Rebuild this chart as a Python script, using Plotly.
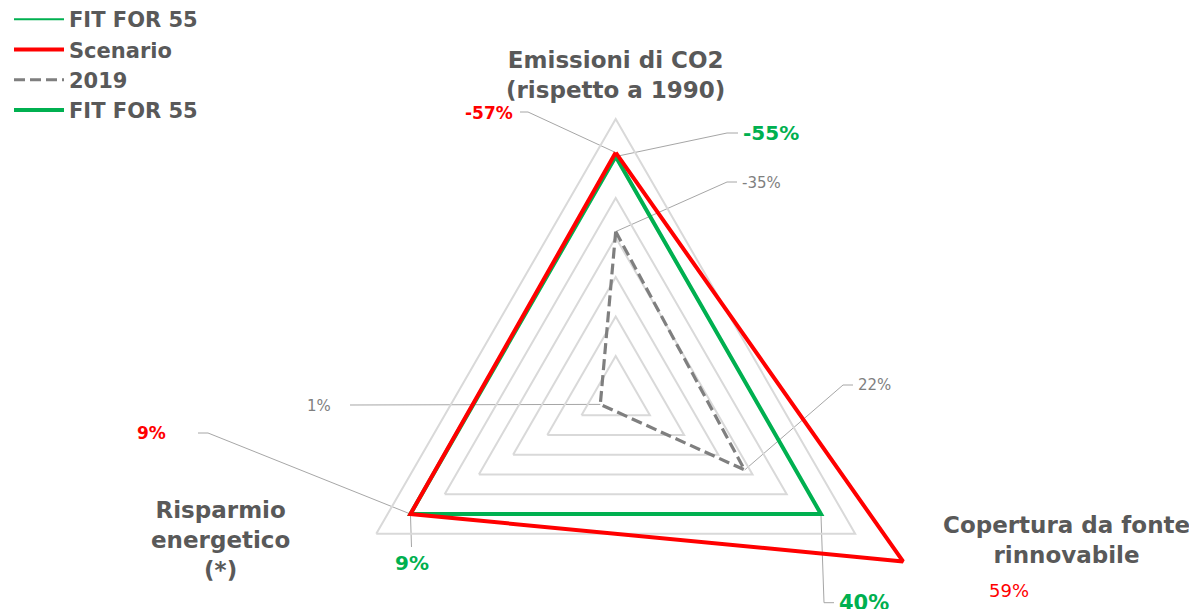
import math
import plotly.graph_objects as go

# ---------------- data ----------------
categories = ["Emissioni di CO2<br>(rispetto a 1990)",
              "Copertura da fonte<br>rinnovabile",
              "Risparmio<br>energetico<br>(*)"]
# plotted radial values (grid units, 7 rings)
scenario_r = [6.15, 8.4, 6.0]
fit_r = [6.05, 6.0, 6.0]
y2019_r = [4.15, 3.77, 0.45]
# displayed data labels
scenario_labels = ["-57%", "59%", "9%"]
fit_labels = ["-55%", "40%", "9%"]
y2019_labels = ["-35%", "22%", "1%"]
grid_levels = [1, 2, 3, 4, 5, 6, 7]

# ---------------- layout constants ----------------
OFF = 8                      # body margin of the html page
WF, HF = 1197 - OFF, 760     # figure taller than the window: the lower part is off-screen
UNIT = 39.5                  # px per radial unit
RAX = 8.8                    # radial axis max
CXF, CYF = 615.7 - OFF, 395.5 - OFF
RPX = RAX * UNIT
dom_x = [(CXF - RPX) / WF, (CXF + RPX) / WF]
dom_y = [1 - (CYF + RPX) / HF, 1 - (CYF - RPX) / HF]

GREEN, RED, GRAY = "#00b050", "#ff0000", "#7f7f7f"
GRID, LEAD, TXT = "#d9d9d9", "#a6a6a6", "#595959"
FONT = "DejaVu Sans"


def closed(v):
    return list(v) + [v[0]]


def vertex_px(r, i):
    a = 2 * math.pi * i / len(categories)
    return CXF + UNIT * r * math.sin(a), CYF - UNIT * r * math.cos(a)


fig = go.Figure()

# leader lines (data point -> label anchor), in a pixel-space cartesian overlay
leaders = [
    (scenario_r, 0, [(528, 112), (520, 112)]),
    (fit_r, 0, [(727, 133), (738, 133)]),
    (y2019_r, 0, [(727, 182), (737, 182)]),
    (y2019_r, 1, [(843, 385), (853, 385)]),
    (fit_r, 1, [(824, 602.7), (834, 602.7)]),
    (y2019_r, 2, [(350, 405)]),
    (scenario_r, 2, [(208, 433), (198, 433)]),
    (fit_r, 2, [(411.5, 547)]),
]
for vals, i, pts in leaders:
    x0, y0 = vertex_px(vals[i], i)
    xs = [x0] + [p[0] - OFF for p in pts]
    ys = [y0] + [p[1] - OFF for p in pts]
    fig.add_trace(go.Scatter(x=xs, y=ys, mode="lines", line=dict(color=LEAD, width=1),
                             showlegend=False, hoverinfo="skip"))

fig.add_trace(go.Scatterpolar(r=closed(fit_r), theta=closed(categories), name="FIT FOR 55",
                              mode="lines", line=dict(color=GREEN, width=2), legendrank=1))
fig.add_trace(go.Scatterpolar(r=closed(y2019_r), theta=closed(categories), name="2019",
                              mode="lines", line=dict(color=GRAY, width=3.2, dash="11px,5px"),
                              legendrank=3))
fig.add_trace(go.Scatterpolar(r=closed(fit_r), theta=closed(categories), name="FIT FOR 55",
                              mode="lines", line=dict(color=GREEN, width=4), legendrank=4))
fig.add_trace(go.Scatterpolar(r=closed(scenario_r), theta=closed(categories), name="Scenario",
                              mode="lines", line=dict(color=RED, width=4), legendrank=2))

annotations = []


def add_label(text, px, py, color, size, bold, xanchor="left", yanchor="middle"):
    annotations.append(dict(text=text, x=(px - OFF) / WF, y=1 - (py - OFF) / HF,
                            xref="paper", yref="paper",
                            xanchor=xanchor, yanchor=yanchor, showarrow=False,
                            font=dict(family=FONT, size=size, color=color,
                                      weight="bold" if bold else "normal")))


# category labels
add_label(categories[0], 615.5, 74.5, TXT, 23, True, "center")
add_label(categories[1], 1066.5, 540, TXT, 23, True, "center")
add_label(categories[2], 220, 540, TXT, 23, True, "center")

# data labels
add_label(scenario_labels[0], 515, 113, RED, 17, True, "right")
add_label(fit_labels[0], 741, 133, GREEN, 20, True, "left")
add_label(y2019_labels[0], 740, 183, GRAY, 15, False, "left")
add_label(y2019_labels[1], 856, 385, GRAY, 15, False, "left")
add_label(fit_labels[1], 837, 603, GREEN, 21, True, "left")
add_label(scenario_labels[1], 1009, 590, RED, 18, False, "center")
add_label(y2019_labels[2], 333, 406, GRAY, 15, False, "right")
add_label(scenario_labels[2], 168, 433, RED, 17, True, "right")
add_label(fit_labels[2], 412, 563, GREEN, 20, True, "center")

fig.update_layout(
    width=WF, height=HF, margin=dict(l=0, r=0, t=0, b=0, autoexpand=False),
    paper_bgcolor="white", plot_bgcolor="rgba(0,0,0,0)",
    xaxis=dict(range=[0, WF], visible=False, fixedrange=True),
    yaxis=dict(range=[HF, 0], visible=False, fixedrange=True),
    polar=dict(domain=dict(x=dom_x, y=dom_y), bgcolor="rgba(0,0,0,0)", gridshape="linear",
               radialaxis=dict(range=[0, RAX], tickvals=grid_levels, showgrid=True,
                               gridcolor=GRID, gridwidth=1.5, showline=False,
                               showticklabels=False, ticks=""),
               angularaxis=dict(type="category", rotation=90, direction="clockwise",
                                showgrid=False, showline=False, showticklabels=False,
                                ticks="")),
    showlegend=True,
    legend=dict(x=1 / WF, y=1 + 9 / HF, xanchor="left", yanchor="top", traceorder="normal",
                bgcolor="rgba(0,0,0,0)", itemwidth=50,
                font=dict(family=FONT, size=21, color=TXT, weight="bold")),
    annotations=annotations,
)

fig.write_html("out.html")
